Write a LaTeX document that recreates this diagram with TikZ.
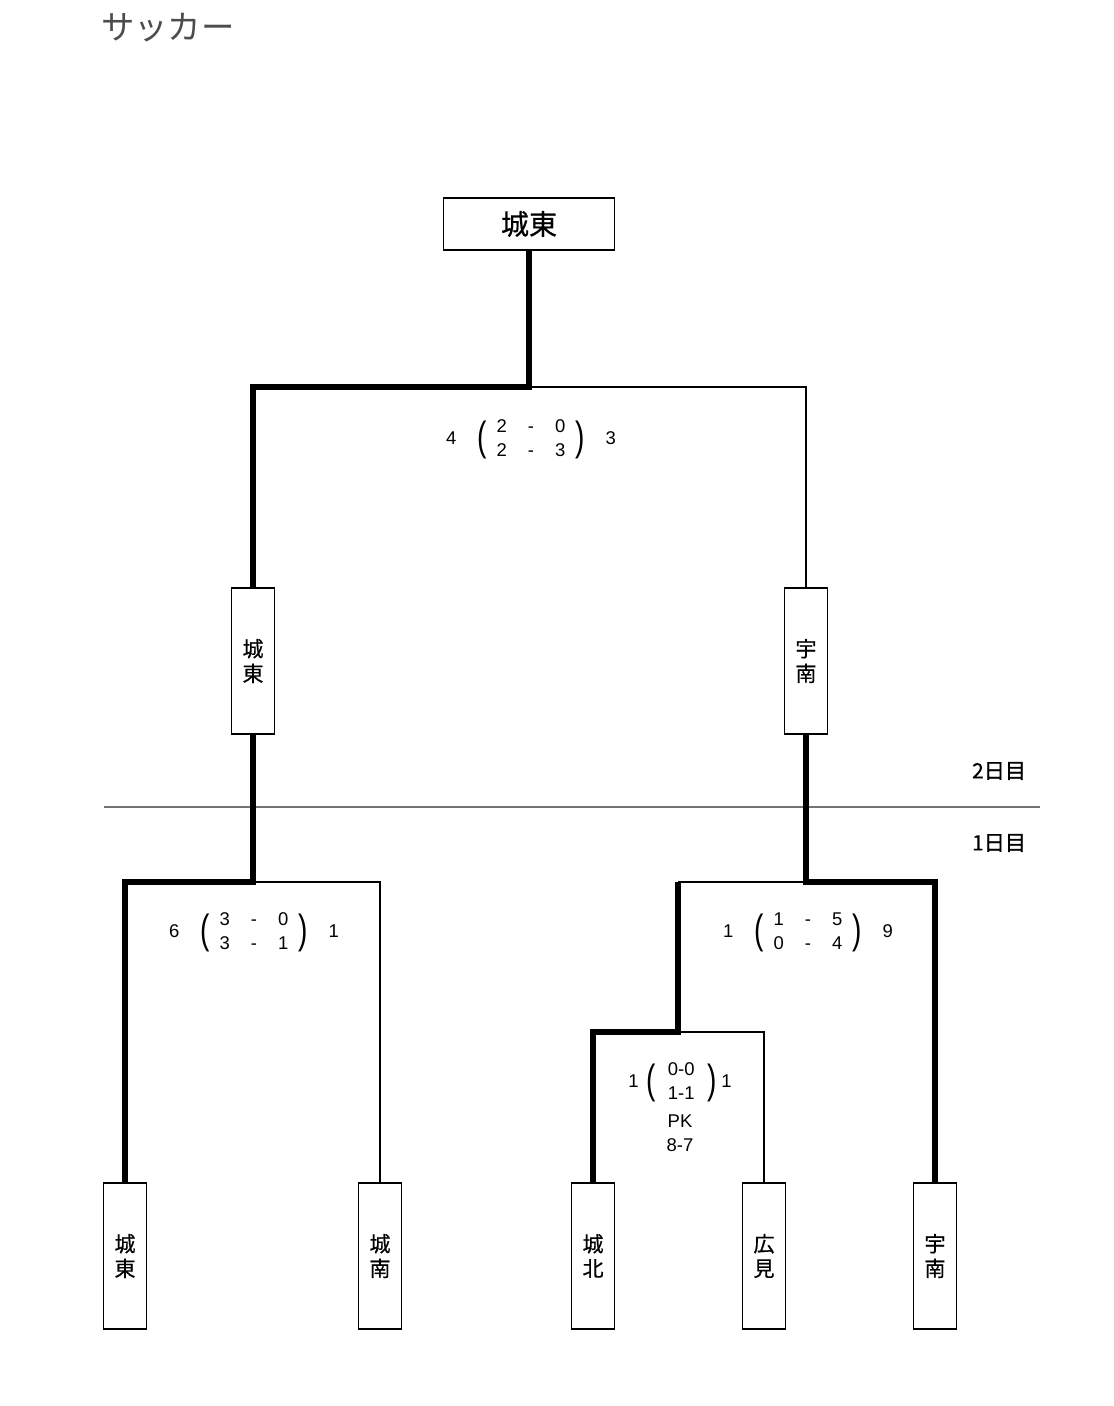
\documentclass[tikz,border=0pt]{standalone}
\usepackage{fontspec}
\usepackage{graphicx}
\setmainfont{Liberation Sans}
\newfontfamily\jp[FakeBold=0.6]{Noto Sans CJK JP}
\newfontfamily\jptitle{Noto Sans CJK JP}
\usepackage{tikz}

% tall parentheses round the two halves
\newcommand{\kakko}[1]{\raisebox{-3.4pt}{\scalebox{1}[1.45]{\fontsize{16}{16}\selectfont#1}}}
% score with two halves in parentheses
\newcommand{\kekka}[6]{#1\hspace{0.42cm}\kakko{(}\begin{tabular}{@{\hspace{0.2cm}}c@{\hspace{0.42cm}}c@{\hspace{0.42cm}}c@{\hspace{0.2cm}}}#2&-&#3\\#4&-&#5\end{tabular}\kakko{)}\hspace{0.42cm}#6}

\begin{document}
\begin{tikzpicture}[x=0.02cm, y=-0.02cm,
    team/.style={draw, line width=1.1pt, inner sep=0pt, minimum width=0.86cm, minimum height=2.92cm, align=center, font=\jp\fontsize{12}{14}\selectfont},
    win/.style={line width=3pt},
    lose/.style={line width=0.85pt},
    score/.style={font=\fontsize{10.5}{13.5}\selectfont}]
    \useasboundingbox (0,0) rectangle (1113,1406);

    % --- Title ---
    \node[anchor=west, text=black!70, font=\jptitle\fontsize{19}{21}\selectfont] (title) at (95,28) {サッカー};

    % --- Champion ---
    \node[draw, line width=1.1pt, minimum width=3.42cm, minimum height=1.04cm, font=\jp\fontsize{16}{18}\selectfont] (champ) at (529,224) {城東};

    % --- Final ---
    \node[team] (f1) at (253,661) {城\\東};
    \node[team] (f2) at (806,661) {宇\\南};
    \coordinate (j1) at (529,387);
    \draw[win] (champ.south) -- (j1) -| (f1.north);
    \draw[lose] (j1) -| (f2.north);
    \node[score] (s1) at (531,440) {\kekka{4}{2}{0}{2}{3}{3}};

    % --- Day line ---
    \draw[black!55, line width=1.3pt] (104,807) -- (1040,807);
    \node[font=\jp\fontsize{12}{14}\selectfont] (d2) at (999,771) {2日目};
    \node[font=\jp\fontsize{12}{14}\selectfont] (d1) at (999,843) {1日目};

    % --- First round ---
    \node[team] (t1) at (125,1256) {城\\東};
    \node[team] (t2) at (380,1256) {城\\南};
    \node[team] (t3) at (593,1256) {城\\北};
    \node[team] (t4) at (764,1256) {広\\見};
    \node[team] (t5) at (935,1256) {宇\\南};

    % Left block
    \coordinate (j2) at (253,882);
    \draw[win] (f1.south) -- (j2) -| (t1.north);
    \draw[lose] (j2) -| (t2.north);
    \node[score] (s2) at (254,933) {\kekka{6}{3}{0}{3}{1}{1}};

    % Right block
    \coordinate (j3) at (806,882);
    \coordinate (j3b) at (678,882);
    \coordinate (j4) at (678,1032);
    \draw[win] (f2.south) -- (j3) -| (t5.north);
    \draw[lose] (j3) -- (j3b);
    \draw[win] (j3b) -- (j4) -| (t3.north);
    \draw[lose] (j4) -| (t4.north);
    \node[score] (s3) at (808,933) {\kekka{1}{1}{5}{0}{4}{9}};

    % PK match
    \node[score] (s4) at (680,1083) {1\hspace{0.15cm}\kakko{(}\begin{tabular}{@{\hspace{0.25cm}}c@{\hspace{0.25cm}}}0-0\\1-1\end{tabular}\kakko{)}\hspace{0.1cm}1};
    \node[score, align=center] (pk) at (680,1133) {PK\\8-7};
\end{tikzpicture}
\end{document}
